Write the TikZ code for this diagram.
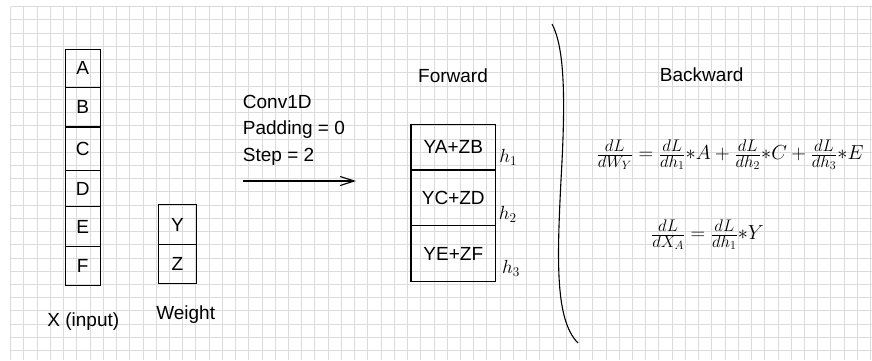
\RequirePackage{fix-cm}
\documentclass[tikz,border=0pt]{standalone}
\usepackage{fontspec}
\setmainfont{Liberation Sans}
\usetikzlibrary{arrows.meta}
\DeclareMathSizes{20.3}{20.3}{16.8}{12}

\tikzset{
  gridline/.style={draw=gray!28, line width=1pt},
  cell/.style={draw, line width=1.1pt, inner sep=0pt, font=\fontsize{19}{23}\selectfont},
  lbl/.style={font=\fontsize{19}{23}\selectfont, inner sep=0pt},
  hlbl/.style={font=\fontsize{19}{23}\selectfont, inner sep=0pt},
  eqn/.style={font=\fontsize{20.3}{24}\selectfont, inner sep=0pt},
}

\begin{document}
\begin{tikzpicture}[x=1pt, y=-1pt, >={Straight Barb[length=14pt,width=9pt]}]  % one unit is one pixel, y goes down
    \useasboundingbox (0,0) rectangle (872,360);

    % Draw the background grid
    \foreach \gx in {10.7,23.93,...,872} {
        \draw[gridline] (\gx,6.7) -- (\gx,360);
    }
    \foreach \gy in {6.7,19.93,...,360} {
        \draw[gridline] (10.7,\gy) -- (872,\gy);
    }

    % Draw the input column X
    \foreach \name/\ytop/\ybot in {A/49.3/87.3, B/87.3/127, C/127/170.7, D/170.7/206.7, E/206.7/246.7, F/246.7/285.7} {
        \pgfmathsetmacro\hgt{\ybot-\ytop}
        \node[cell, minimum width=35pt, minimum height=\hgt pt] (x\name) at (82.8,{(\ytop+\ybot)/2}) {\name};
    }
    \node[lbl] (xlabel) at (83.3,321.7) {X (input)};

    % Draw the weight column
    \node[cell, minimum width=38.4pt, minimum height=39.6pt] (wY) at (177.5,224.5) {Y};
    \node[cell, minimum width=38.4pt, minimum height=39pt] (wZ) at (177.5,263.8) {Z};
    \node[lbl] (wlabel) at (185.7,315) {Weight};

    % Conv1D settings and the arrow
    \node[lbl, anchor=west] (conv) at (242.7,102.3) {Conv1D};
    \node[lbl, anchor=west] (pad) at (242.7,130) {Padding = 0};
    \node[lbl, anchor=west] (stride) at (242.7,157.3) {Step = 2};
    \coordinate (arrowstart) at (243.3,181);
    \coordinate (arrowend) at (356,181);
    \draw[->, line width=1.1pt] (arrowstart) -- (arrowend);

    % Forward output
    \node[lbl] (fwd) at (453,76) {Forward};
    \node[cell, minimum width=84.7pt, minimum height=45.7pt] (h1cell) at (453.3,147.15) {YA+ZB};
    \node[cell, minimum width=84.7pt, minimum height=55.7pt] (h2cell) at (453.3,197.85) {YC+ZD};
    \node[cell, minimum width=84.7pt, minimum height=56pt] (h3cell) at (453.3,253.7) {YE+ZF};
    \node[hlbl] (h1) at (508.3,157.3) {$h_1$};
    \node[hlbl] (h2) at (507.7,214) {$h_2$};
    \node[hlbl] (h3) at (511,268.3) {$h_3$};

    % Big bracket
    \draw[line width=1.1pt] (552,24) .. controls (566,50) and (565,110) .. (561,180)
        .. controls (557,260) and (555,320) .. (578,343);

    % Backward gradients
    \node[lbl] (bwd) at (701.7,75) {Backward};
    \node[eqn] (dW) at (730,155) {$\frac{dL}{dW_Y} = \frac{dL}{dh_1}{*}A + \frac{dL}{dh_2}{*}C + \frac{dL}{dh_3}{*}E$};
    \node[eqn] (dX) at (707.5,235) {$\frac{dL}{dX_A} = \frac{dL}{dh_1}{*}Y$};

\end{tikzpicture}
\end{document}
